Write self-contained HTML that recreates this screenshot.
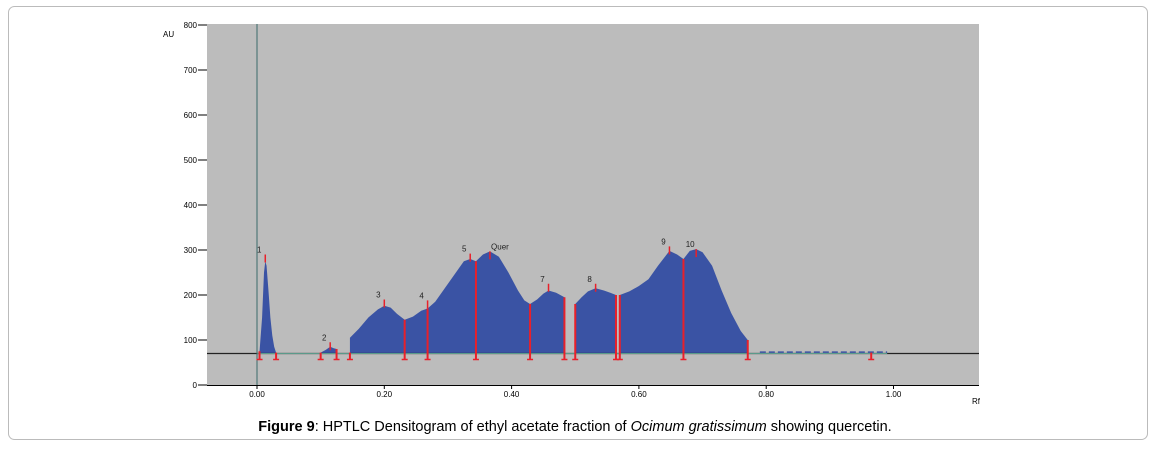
<!DOCTYPE html>
<html><head><meta charset="utf-8"><style>
body{margin:0;background:#fff;width:1155px;height:445px;overflow:hidden;font-family:"Liberation Sans",sans-serif}
</style></head><body>
<svg width="1155" height="445" xmlns="http://www.w3.org/2000/svg">
<rect x="8.5" y="6.5" width="1139" height="433" rx="6" fill="#fff" stroke="#bbb"/>
<rect x="207" y="24" width="772" height="361" fill="#bcbcbc"/>
<g id="chart"></g>
<text x="575" y="431" text-anchor="middle" font-size="14.5" fill="#000"><tspan font-weight="bold">Figure 9</tspan>: HPTLC Densitogram of ethyl acetate fraction of <tspan font-style="italic">Ocimum gratissimum</tspan> showing quercetin.</text>
</svg>
<script>
const yTicks=[0,100,200,300,400,500,600,700,800];
const yTickLabels=["0","100","200","300","400","500","600","700","800"];
const xTicks=[0,0.2,0.4,0.6,0.8,1.0];
const xTickLabels=["0.00","0.20","0.40","0.60","0.80","1.00"];
const baselineAU=70;
// filled segments: rf positions and AU values
const seg1Rf=[0.004,0.008,0.011,0.013,0.015,0.018,0.021,0.024,0.027,0.030];
const seg1Au=[75,150,250,275,265,210,150,110,85,72];
const seg2Rf=[0.10,0.108,0.115,0.12,0.125];
const seg2Au=[72,78,85,82,80];
const seg3Rf=[0.146,0.16,0.175,0.19,0.2,0.21,0.22,0.232,0.245,0.258,0.268,0.28,0.295,0.31,0.325,0.335,0.344,0.355,0.366,0.38,0.395,0.41,0.42,0.429,0.44,0.45,0.458,0.47,0.483];
const seg3Au=[105,125,150,168,176,172,158,145,152,165,170,185,215,245,275,280,275,290,297,285,250,210,188,180,190,203,210,205,195];
const seg4Rf=[0.50,0.51,0.52,0.532,0.545,0.555,0.564];
const seg4Au=[180,195,208,215,210,205,200];
const seg5Rf=[0.57,0.585,0.60,0.615,0.63,0.648,0.66,0.67,0.68,0.69,0.70,0.715,0.73,0.745,0.76,0.771];
const seg5Au=[200,208,220,235,265,298,290,280,298,302,295,265,210,160,120,100];
const segments=[[seg1Rf,seg1Au],[seg2Rf,seg2Au],[seg3Rf,seg3Au],[seg4Rf,seg4Au],[seg5Rf,seg5Au]];
const boundaryRf=[0.004,0.030,0.10,0.125,0.146,0.232,0.268,0.344,0.429,0.483,0.50,0.564,0.57,0.67,0.771,0.965];
const boundaryAu=[75,72,72,80,72,145,170,275,180,195,180,200,200,280,100,72];
const peakRf=[0.013,0.115,0.2,0.268,0.335,0.366,0.458,0.532,0.648,0.69];
const peakAu=[290,95,190,188,292,297,225,225,308,302];
const peakLabels=["1","2","3","4","5","Quer","7","8","9","10"];
const NS="http://www.w3.org/2000/svg";
const g=document.getElementById('chart');
const X=rf=>257+rf*636.5;
const Y=au=>385-au*0.45;
function mk(t,a){const e=document.createElementNS(NS,t);for(const k in a)e.setAttribute(k,a[k]);g.appendChild(e);return e;}
// y axis ticks
yTicks.forEach((v,i)=>{
 const l=mk('line',{x1:198,x2:207,y1:Y(v),y2:Y(v),stroke:'#000'});
 
 
 const t=mk('text',{x:197,y:Y(v)+3,'text-anchor':'end','font-size':8,fill:'#000'});
 t.textContent=yTickLabels[i];
 
 
});
xTicks.forEach((v,i)=>{
 const l=mk('line',{x1:X(v),x2:X(v),y1:385,y2:389,stroke:'#000'});
 
 
 const t=mk('text',{x:X(v),y:397,'text-anchor':'middle','font-size':8,fill:'#000'});
 t.textContent=xTickLabels[i];
 
 
});
const ax=mk('line',{x1:207,x2:979,y1:385.5,y2:385.5,stroke:'#000'});


const au=mk('text',{x:163,y:37,'font-size':8,fill:'#000'});au.textContent='AU';


const rft=mk('text',{x:972,y:404,'font-size':8,fill:'#000'});rft.textContent='Rf';


// filled peaks
segments.forEach(s=>{
 let d='M'+X(s[0][0])+','+Y(baselineAU);
 s[0].forEach((r,i)=>{d+=' L'+X(r)+','+Y(s[1][i]);});
 d+=' L'+X(s[0][s[0].length-1])+','+Y(baselineAU)+' Z';
 const p=mk('path',{d:d,fill:'#3a53a4'});
 
 
});
// baseline
const bl=mk('line',{x1:207,x2:979,y1:Y(baselineAU),y2:Y(baselineAU),stroke:'#222','stroke-width':1.3});


const bl2=mk('line',{x1:X(0),x2:X(0.99),y1:Y(baselineAU),y2:Y(baselineAU),stroke:'#5a9a8a','stroke-width':1});


const noise=mk('line',{x1:X(0.79),x2:X(0.99),y1:Y(73),y2:Y(73),stroke:'#3a53a4','stroke-width':1.5,'stroke-dasharray':'6 3'});


const vl=mk('line',{x1:X(0),x2:X(0),y1:24,y2:385,stroke:'#3a6a6a'});


// boundaries
boundaryRf.forEach((r,i)=>{
 const l=mk('line',{x1:X(r),x2:X(r),y1:Y(boundaryAu[i]),y2:Y(baselineAU)+6,stroke:'#e8202a','stroke-width':2});
 
 
 const t=mk('line',{x1:X(r)-3,x2:X(r)+3,y1:Y(baselineAU)+6,y2:Y(baselineAU)+6,stroke:'#e8202a','stroke-width':1.5});
 
 
});
peakRf.forEach((r,i)=>{
 const l=mk('line',{x1:X(r),x2:X(r),y1:Y(peakAu[i]),y2:Y(peakAu[i])+8,stroke:'#e8202a','stroke-width':1.5});
 
 
 const t=mk('text',{x:X(r)-(i==5?-10:6),y:Y(peakAu[i])-2,'text-anchor':'middle','font-size':8,fill:'#222'});
 t.textContent=peakLabels[i];
 
 
});
</script>
</body></html>
